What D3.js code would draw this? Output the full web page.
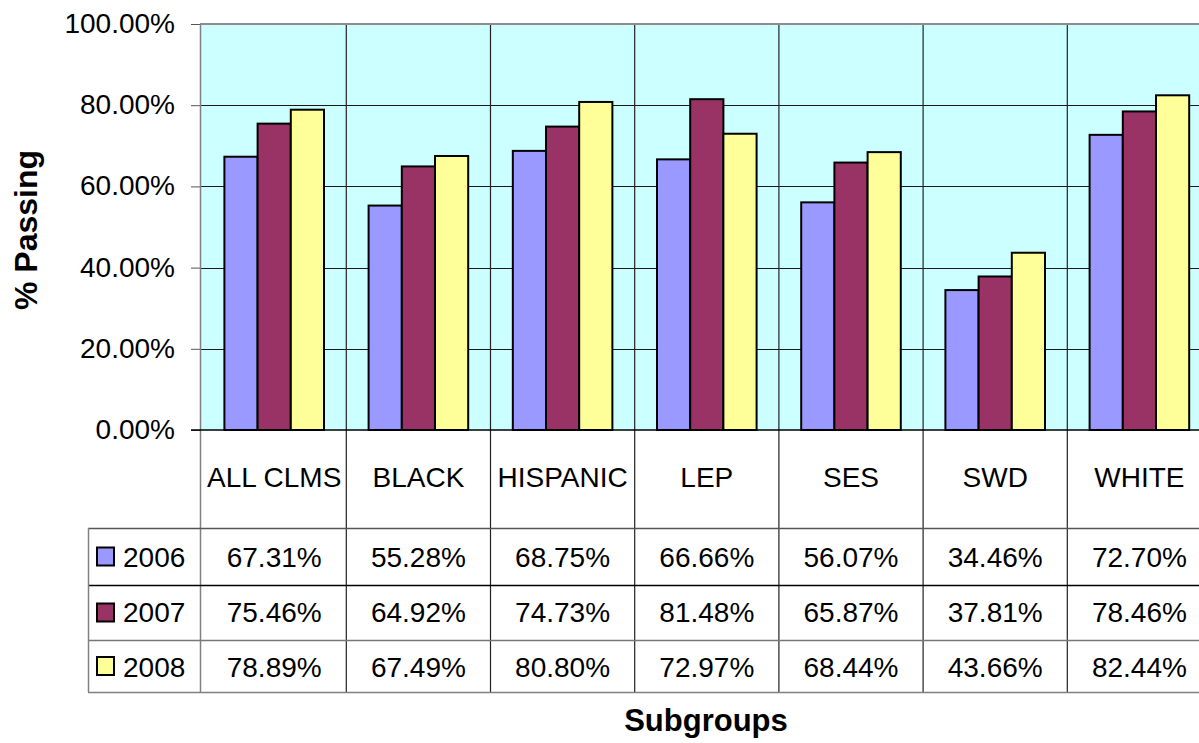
<!DOCTYPE html>
<html>
<head>
<meta charset="utf-8">
<script src="https://cdn.jsdelivr.net/npm/d3@7"></script>
<style>
  html, body { margin: 0; padding: 0; background: #fff; overflow: hidden; }
  svg text { font-family: "Liberation Sans", Arial, sans-serif; fill: #000; }
</style>
</head>
<body>
<svg id="chart" width="1199" height="743"></svg>
<script>
const categories = ["ALL CLMS", "BLACK", "HISPANIC", "LEP", "SES", "SWD", "WHITE"];
const seriesNames = ["2006", "2007", "2008"];
const values2006 = [0.6731, 0.5528, 0.6875, 0.6666, 0.5607, 0.3446, 0.7270];
const values2007 = [0.7546, 0.6492, 0.7473, 0.8148, 0.6587, 0.3781, 0.7846];
const values2008 = [0.7889, 0.6749, 0.8080, 0.7297, 0.6844, 0.4366, 0.8244];
const seriesColors = ["#9999FF", "#993366", "#FFFF99"];
const yTicks = [0, 0.2, 0.4, 0.6, 0.8, 1.0];
const yTitle = "% Passing";
const xTitle = "Subgroups";

const series = [values2006, values2007, values2008];
const svg = d3.select("#chart");

const plotLeft = 200, plotRight = 1212, plotTop = 24, plotBottom = 430;
const bandStart = 202.1, bandEnd = 202.1 + 7 * 144.2;
const tableLeft = 88;
const rowLines = [528, 585, 640, 692];

const x = d3.scaleBand().domain(categories).range([bandStart, bandEnd]).paddingInner(0).paddingOuter(0);
const bw = x.bandwidth();
const x1 = d3.scaleBand().domain(seriesNames).range([bw * 0.1547, bw * 0.8453]).padding(0);
const y = d3.scaleLinear().domain([0, 1]).range([plotBottom, plotTop]);
const fmt = d3.format(".2%");

// plot background
svg.append("rect").attr("x", plotLeft).attr("y", plotTop)
  .attr("width", plotRight - plotLeft).attr("height", plotBottom - plotTop)
  .attr("fill", "#CCFFFF");

// horizontal gridlines
svg.append("g").selectAll("line").data(yTicks.filter(d => d > 0 && d < 1)).join("line")
  .attr("x1", plotLeft).attr("x2", plotRight)
  .attr("y1", d => Math.round(y(d)) + 0.5).attr("y2", d => Math.round(y(d)) + 0.5)
  .attr("stroke", "#1a1a1a").attr("stroke-width", 1);

// vertical separators (through plot and table)
svg.append("g").selectAll("line").data(categories.slice(1)).join("line")
  .attr("x1", d => x(d)).attr("x2", d => x(d))
  .attr("y1", plotTop).attr("y2", rowLines[3])
  .attr("stroke", "#222").attr("stroke-width", 1.2);

// top border
svg.append("line").attr("x1", plotLeft).attr("x2", plotRight)
  .attr("y1", plotTop).attr("y2", plotTop)
  .attr("stroke", "#8c8c8c").attr("stroke-width", 2);

// bars
const groups = svg.append("g").selectAll("g").data(categories).join("g")
  .attr("transform", d => `translate(${x(d)},0)`);
groups.selectAll("rect").data((c, i) => seriesNames.map((s, j) => ({ s, j, v: series[j][i] }))).join("rect")
  .attr("x", d => x1(d.s))
  .attr("y", d => y(d.v))
  .attr("width", x1.bandwidth())
  .attr("height", d => y(0) - y(d.v))
  .attr("fill", d => seriesColors[d.j])
  .attr("stroke", "#000").attr("stroke-width", 2);

// y axis
const yAxis = d3.axisLeft(y).tickValues(yTicks).tickFormat(fmt).tickSize(9).tickPadding(16);
const ya = svg.append("g").attr("transform", `translate(${plotLeft},0)`).call(yAxis);
ya.select(".domain").remove();
ya.selectAll(".tick line").attr("stroke", "#555");
ya.selectAll(".tick text").attr("font-size", 28).attr("fill", "#000")
  .attr("font-family", "Liberation Sans, Arial, sans-serif").attr("dy", "0.3em");
svg.append("line").attr("x1", plotLeft + 0.5).attr("x2", plotLeft + 0.5)
  .attr("y1", plotTop).attr("y2", rowLines[3]).attr("stroke", "#808080").attr("stroke-width", 1.5);

// zero line
svg.append("line").attr("x1", plotLeft - 9).attr("x2", plotRight)
  .attr("y1", plotBottom).attr("y2", plotBottom).attr("stroke", "#000").attr("stroke-width", 1.5);

// category labels
svg.append("g").selectAll("text").data(categories).join("text")
  .attr("x", d => x(d) + bw / 2).attr("y", 487)
  .attr("text-anchor", "middle").attr("font-size", 28).text(d => d);

// table lines
const rowStroke = ["#555", "#000", "#777", "#808080"];
svg.append("g").selectAll("line").data(rowLines).join("line")
  .attr("x1", tableLeft).attr("x2", plotRight)
  .attr("y1", d => d + 0.5).attr("y2", d => d + 0.5)
  .attr("stroke", (d, i) => rowStroke[i]).attr("stroke-width", 1.3);
svg.append("line").attr("x1", tableLeft + 0.5).attr("x2", tableLeft + 0.5)
  .attr("y1", rowLines[0]).attr("y2", rowLines[3]).attr("stroke", "#808080").attr("stroke-width", 1.5);

// table rows
const rowBaselines = [567, 622, 677];
seriesNames.forEach((s, j) => {
  const rowTop = rowLines[j], rowBot = rowLines[j + 1];
  const cy = (rowTop + rowBot) / 2;
  svg.append("rect").attr("x", 97).attr("y", cy - 9).attr("width", 17).attr("height", 18)
    .attr("fill", seriesColors[j]).attr("stroke", "#000").attr("stroke-width", 2);
  svg.append("text").attr("x", 123).attr("y", rowBaselines[j]).attr("font-size", 28).text(s);
  svg.append("g").selectAll("text").data(categories).join("text")
    .attr("x", (d) => x(d) + bw / 2).attr("y", rowBaselines[j])
    .attr("text-anchor", "middle").attr("font-size", 28)
    .text((d, i) => fmt(series[j][i]));
});

// titles
svg.append("text").attr("transform", "translate(37,230) rotate(-90)")
  .attr("text-anchor", "middle").attr("font-size", 32).attr("font-weight", "bold").text(yTitle);
svg.append("text").attr("x", 706).attr("y", 731)
  .attr("text-anchor", "middle").attr("font-size", 31).attr("font-weight", "bold").text(xTitle);
</script>
</body>
</html>
